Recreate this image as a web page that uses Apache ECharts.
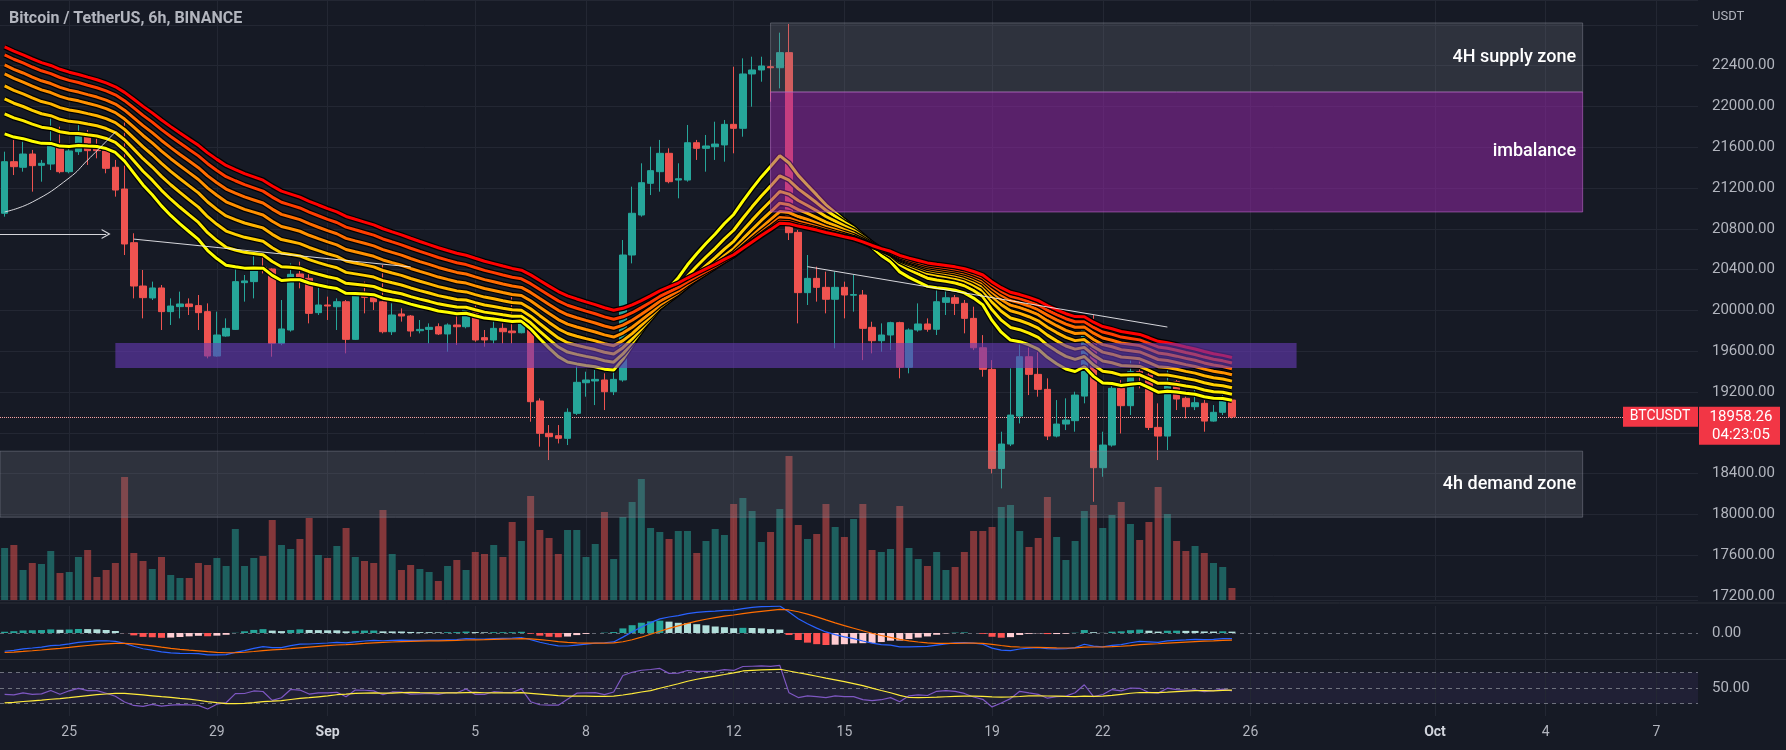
<!DOCTYPE html>
<html>
<head>
<meta charset="utf-8">
<script src="https://cdn.jsdelivr.net/npm/echarts@6/dist/echarts.min.js"></script>
<style>
  html, body { margin: 0; padding: 0; background: #161a25; }
  #chart { width: 1786px; height: 750px; }
</style>
</head>
<body>
<div id="chart"></div>
<script>
// BTCUSDT 6h candles, 2022-08-23 06:00 UTC .. 2022-09-25 12:00 UTC
const opens = [20953,21459,21404,21534,21423,21436,21629,21361,21557,21717,
  21600,21564,21404,21191,20665,20240,20123,20221,19989,20038,
  20064,20048,19989,19554,19750,19815,20273,20283,20423,20407,
  19678,19809,20358,20315,19979,20054,20037,20086,19717,20145,
  20129,20086,19792,19966,19946,19802,19815,19841,19770,19858,
  19841,20005,19734,19711,19825,19799,19782,19933,19113,18796,
  18773,18747,18992,19292,19309,19319,19204,19319,20544,20936,
  21247,21361,21541,21279,21279,21645,21590,21606,21623,21825,
  21786,22319,22358,22390,22380,22528,20766,20175,20315,20227,
  20110,20227,20150,20152,19835,19704,19760,19881,19443,19809,
  19868,19816,20080,20125,20070,19923,19635,19423,18452,18691,
  18965,19547,19374,19227,18769,18887,18920,19161,19874,18459,
  18681,19237,19067,19400,19367,18854,18769,19302,19139,19057,
  19090,18916,19002,19122];
const highs = [21557,21672,21655,21574,21476,21884,21802,21623,21819,21770,
  21688,21606,21476,21868,20757,20397,20283,20250,20119,20185,
  20119,20152,20070,19989,19923,20430,20348,20544,20560,20413,
  20103,20462,20479,20397,20234,20136,20119,20103,20185,20283,
  20168,20446,20070,20021,19956,19907,19874,19874,19874,19956,
  20037,20054,19809,19956,19874,20152,20021,19972,19139,18877,
  18877,19041,19466,19400,19417,19384,19417,20691,21214,21443,
  21606,21672,21590,21443,21819,21672,21721,21851,21868,22390,
  22472,22488,22488,22456,22724,22809,20789,20544,20430,20381,
  20381,20283,20348,20201,19890,19874,19890,19890,19825,20070,
  19923,20201,20217,20152,20103,20037,19759,19514,18812,19433,
  19671,19645,19596,19335,19122,19139,19204,19923,19955,18812,
  19286,19318,19514,19514,19400,19090,19416,19318,19155,19220,
  19122,19073,19188,19128];
const lows = [20920,21328,21361,21165,21263,21377,21345,21345,21525,21427,
  21492,21345,21116,20544,20119,19923,20103,19809,19858,19923,
  19956,19809,19531,19547,19743,19809,20087,20119,20364,19547,
  19660,19793,20217,19874,19956,19907,19809,19580,19711,19972,
  20005,19776,19760,19891,19743,19776,19678,19760,19596,19662,
  19825,19694,19645,19678,19678,19678,19776,18910,18665,18534,
  18697,18681,18976,19155,19073,19024,19171,19302,20462,20920,
  21132,21165,21247,21100,21263,21476,21361,21476,21459,21541,
  21704,21998,22243,22047,22178,20691,19874,20054,20087,19972,
  19629,19923,19989,19514,19580,19596,19612,19335,19384,19792,
  19792,19760,19956,19956,19776,19612,19351,18403,18256,18671,
  18893,19171,19155,18730,18756,18828,18812,19090,18125,18370,
  18665,18795,18975,19237,18828,18534,18632,19024,18942,19024,
  18812,18910,18975,18942];
const closes = [21459,21410,21534,21420,21443,21632,21361,21564,21717,21567,
  21567,21394,21181,20652,20240,20126,20221,19989,20044,20064,
  20038,19979,19554,19760,19825,20283,20290,20430,20397,19678,
  19819,20355,20309,19972,20054,20044,20086,19717,20145,20129,
  20086,19792,19956,19946,19799,19815,19835,19770,19858,19841,
  20011,19711,19711,19825,19792,19782,19930,19106,18796,18763,
  18747,19002,19296,19319,19325,19204,19325,20544,20953,21253,
  21371,21541,21263,21292,21645,21590,21613,21632,21825,21786,
  22319,22358,22397,22380,22528,20763,20175,20315,20227,20110,
  20227,20152,20156,19825,19704,19760,19881,19443,19809,19868,
  19816,20086,20125,20070,19923,19635,19423,18452,18691,18975,
  19547,19374,19227,18769,18887,18926,19171,19890,18459,18681,
  19237,19067,19400,19367,18854,18769,19302,19132,19057,19096,
  18916,19002,19122,18958.26];
// volume, thousand BTC (approx.)
const volumes = [52,55,30,37,36,49,27,28,43,50,
  23,30,37,123,47,39,31,43,25,22,
  22,37,35,42,34,71,34,42,44,80,
  55,51,61,82,45,42,54,72,43,39,
  37,90,46,30,35,31,28,19,34,40,
  30,48,46,55,43,78,59,104,70,62,
  46,70,70,43,56,88,41,83,98,121,
  72,68,61,69,69,47,59,71,65,96,
  102,89,58,68,91,144,75,61,66,96,
  73,63,81,96,50,48,51,94,52,41,
  34,48,30,33,48,69,69,73,93,95,
  69,53,62,103,63,40,59,89,95,72,
  85,98,76,60,78,113,86,59,49,54,
  47,37,33,12];

const tickDates = ['08-25 00','08-29 00','09-01 00','09-05 00','09-08 00','09-12 00','09-15 00',
  '09-19 00','09-22 00','09-26 00','10-01 00','10-04 00','10-07 00'];
const tickText = ['25','29','Sep','5','8','12','15','19','22','26','Oct','4','7'];

// EMA ribbon, fastest (yellow) to slowest (red); seeds = values read at the first bar
const emaPeriods = [20, 25, 30, 35, 40, 45, 50, 55];
const emaSeeds = [21731, 21928, 22075, 22202, 22320, 22408, 22506, 22584];
const emaColors = ['#ffff00','#ffeb00','#ffd000','#ffb300','#ff9100','#ff6d00','#ff3d00','#ff0000'];
const macdSeeds = [21520, 21960, -470];   // ema12, ema26, signal at first bar
const rsiSeeds = [90, 125];               // avg gain, avg loss at first bar
const rsiMaSeed = 30;

// drawn zones [top, bottom] and drawings [barIndex, price]
const supplyZone = [22819, 22142];
const imbalanceZone = [22142, 20966];
const midBand = [19681, 19436];
const demandZone = [18621, 17974];
const arcPoints = [[0, 20966], [3, 21063], [7, 21300], [9, 21475], [12, 21750]];
const trend1 = [[14, 20700], [44, 20427]];
const trend2 = [[87, 20430], [126, 19838]];
const arrowLevel = 20750;
const lastClose = 18958.26;

const slotCount = 184;
const pad = n => String(n).padStart(2, '0');
const startTs = Date.UTC(2022, 7, 23, 6);
const slots = [];
for (let i = 0; i < slotCount; i++) {
  const d = new Date(startTs + i * 6 * 3600 * 1000);
  slots.push(pad(d.getUTCMonth() + 1) + '-' + pad(d.getUTCDate()) + ' ' + pad(d.getUTCHours()));
}

// indicators
const emaLines = emaPeriods.map((p, k) => {
  const a = 2 / (p + 1);
  let e = emaSeeds[k];
  return closes.map((c, i) => { if (i > 0) e += a * (c - e); return +e.toFixed(2); });
});
const macd = [], signal = [], hist = [];
let e12 = macdSeeds[0], e26 = macdSeeds[1], sig = macdSeeds[2];
closes.forEach((c, i) => {
  if (i > 0) { e12 += 2 / 13 * (c - e12); e26 += 2 / 27 * (c - e26); }
  const m = e12 - e26;
  if (i > 0) sig += 0.2 * (m - sig);
  macd.push(+m.toFixed(2)); signal.push(+sig.toFixed(2)); hist.push(+(m - sig).toFixed(2));
});
const rsi = [];
let ag = rsiSeeds[0], al = rsiSeeds[1];
closes.forEach((c, i) => {
  if (i > 0) {
    const d = c - closes[i - 1];
    ag = (ag * 13 + Math.max(d, 0)) / 14;
    al = (al * 13 + Math.max(-d, 0)) / 14;
  }
  rsi.push(+(100 - 100 / (1 + ag / al)).toFixed(2));
});
const rsiMa = rsi.map((v, i) => {
  let s = 0;
  for (let j = i - 13; j <= i; j++) s += j >= 0 ? rsi[j] : rsiMaSeed;
  return +(s / 14).toFixed(2);
});

const UP = '#26a69a', DOWN = '#ef5350';
const FONT = 'Roboto';
const vLines = tickDates.map(d => ({ xAxis: d }));
const gridLineStyle = { color: '#232733', width: 1, type: 'solid' };

function xAxisFor(gridIndex, labels) {
  return {
    type: 'category', gridIndex: gridIndex, data: slots, boundaryGap: true,
    axisLine: { show: false }, axisTick: { show: false }, splitLine: { show: false },
    axisLabel: {
      show: labels, margin: 9, color: '#b2b5be', fontSize: 14, fontFamily: FONT,
      interval: (idx, val) => tickDates.indexOf(val) >= 0,
      formatter: val => {
        const t = tickText[tickDates.indexOf(val)];
        return /[A-Za-z]/.test(t) ? '{m|' + t + '}' : t;
      },
      rich: { m: { fontWeight: 'bold', color: '#d1d4dc', fontSize: 14, fontFamily: FONT } }
    }
  };
}

const chart = echarts.init(document.getElementById('chart'));

const series = [];
// volume (overlay at bottom of price pane)
series.push({
  type: 'bar', xAxisIndex: 1, yAxisIndex: 1, barWidth: 7, z: 2, silent: true,
  data: volumes.map((v, i) => ({ value: v, itemStyle: { color: closes[i] >= opens[i] ? 'rgba(38,166,154,0.5)' : 'rgba(239,83,80,0.5)' } }))
});
// candles
series.push({
  type: 'candlestick', xAxisIndex: 0, yAxisIndex: 0, barWidth: 7, z: 3,
  data: closes.map((c, i) => [opens[i], c, lows[i], highs[i]]),
  itemStyle: { color: UP, color0: DOWN, borderColor: UP, borderColor0: DOWN, borderWidth: 1 },
  markLine: {
    silent: true, symbol: 'none', z: 1, label: { show: false },
    data: vLines.map(v => Object.assign({ lineStyle: gridLineStyle }, v)).concat([
      { yAxis: lastClose, lineStyle: { color: '#f7a1a1', type: 'dotted', width: 1 } }
    ])
  }
});
// EMA ribbon with dark outlines
emaLines.forEach((line, k) => {
  series.push({ type: 'line', xAxisIndex: 0, yAxisIndex: 0, data: line, showSymbol: false, silent: true, z: 4,
    lineStyle: { color: '#000000', width: 5.5 } });
  series.push({ type: 'line', xAxisIndex: 0, yAxisIndex: 0, data: line, showSymbol: false, silent: true, z: 4,
    lineStyle: { color: emaColors[k], width: 3 } });
});
// zones
const zoneLabel = { show: true, position: 'insideRight', color: '#ffffff', fontSize: 18, fontWeight: 500, fontFamily: FONT, distance: 7 };
const grayZone = { color: 'rgba(120,123,134,0.25)', borderColor: 'rgba(140,143,155,0.45)', borderWidth: 1 };
series.push({
  type: 'line', xAxisIndex: 0, yAxisIndex: 0, data: [], silent: true,
  markArea: {
    z: 10, silent: true,
    data: [
      [{ xAxis: slots[83], yAxis: supplyZone[0], name: '4H supply zone', itemStyle: grayZone, label: zoneLabel },
       { xAxis: slots[171], yAxis: supplyZone[1] }],
      [{ xAxis: slots[83], yAxis: imbalanceZone[0], name: 'imbalance',
         itemStyle: { color: 'rgba(156,39,176,0.5)', borderColor: 'rgba(186,104,200,0.6)', borderWidth: 1 }, label: zoneLabel },
       { xAxis: slots[171], yAxis: imbalanceZone[1] }],
      [{ xAxis: slots[12], yAxis: midBand[0],
         itemStyle: { color: 'rgba(103,58,183,0.6)', borderWidth: 0 }, label: { show: false } },
       { xAxis: slots[140], yAxis: midBand[1] }],
      [{ yAxis: demandZone[0], name: '4h demand zone', itemStyle: grayZone, label: zoneLabel },
       { xAxis: slots[171], yAxis: demandZone[1] }]
    ]
  }
});
// drawings
const drawStyle = { color: 'rgba(235,235,240,0.9)', width: 1 };
series.push({ type: 'line', xAxisIndex: 0, yAxisIndex: 0, data: arcPoints, smooth: true, showSymbol: false, silent: true, z: 11, lineStyle: drawStyle });
series.push({ type: 'line', xAxisIndex: 0, yAxisIndex: 0, data: trend1, showSymbol: false, silent: true, z: 11, lineStyle: drawStyle });
series.push({
  type: 'line', xAxisIndex: 0, yAxisIndex: 0, data: trend2, showSymbol: false, silent: true, z: 11, lineStyle: drawStyle,
  markLine: {
    silent: true, z: 11, label: { show: false },
    symbol: ['none', 'path://M0,10L5,0L10,10L8.7,10L5,2.6L1.3,10Z'], symbolSize: [10, 9],
    lineStyle: { color: 'rgba(235,235,240,0.9)', width: 1, type: 'solid' },
    data: [[{ x: 0, yAxis: arrowLevel }, { coord: [11, arrowLevel] }]]
  }
});
// MACD
series.push({
  type: 'bar', xAxisIndex: 2, yAxisIndex: 2, barWidth: 7, silent: true, z: 2,
  data: hist.map((h, i) => {
    const p = i > 0 ? hist[i - 1] : h;
    const col = h >= 0 ? (h >= p ? '#26a69a' : '#b2dfdb') : (h <= p ? '#ff5252' : '#ffcdd2');
    return { value: h, itemStyle: { color: col } };
  }),
  markLine: {
    silent: true, symbol: 'none', z: 1, label: { show: false },
    data: vLines.map(v => Object.assign({ lineStyle: gridLineStyle }, v)).concat([
      { yAxis: 0, lineStyle: { color: 'rgba(120,123,134,0.8)', type: [4, 4], width: 1 } }
    ])
  }
});
series.push({ type: 'line', xAxisIndex: 2, yAxisIndex: 2, data: macd, showSymbol: false, silent: true, z: 3, lineStyle: { color: '#2962ff', width: 1.2 } });
series.push({ type: 'line', xAxisIndex: 2, yAxisIndex: 2, data: signal, showSymbol: false, silent: true, z: 3, lineStyle: { color: '#ff6d00', width: 1.2 } });
// RSI
series.push({
  type: 'line', xAxisIndex: 3, yAxisIndex: 3, data: rsi, showSymbol: false, silent: true, z: 3,
  lineStyle: { color: '#7e57c2', width: 1.2 },
  markArea: { silent: true, z: 0, itemStyle: { color: 'rgba(126,87,194,0.1)' }, data: [[{ yAxis: 70 }, { yAxis: 30 }]] },
  markLine: {
    silent: true, symbol: 'none', z: 1, label: { show: false },
    data: vLines.map(v => Object.assign({ lineStyle: gridLineStyle }, v)).concat([70, 50, 30].map(y => (
      { yAxis: y, lineStyle: { color: 'rgba(120,123,134,0.9)', type: [4, 4], width: 1 } })))
  }
});
series.push({ type: 'line', xAxisIndex: 3, yAxisIndex: 3, data: rsiMa, showSymbol: false, silent: true, z: 3, lineStyle: { color: '#ffeb3b', width: 1.2 } });

const axisLabelStyle = { color: '#b2b5be', fontSize: 15, fontFamily: FONT, margin: 14, align: 'left' };

chart.setOption({
  backgroundColor: '#161a25',
  animation: false,
  textStyle: { fontFamily: FONT },
  title: [
    { text: 'Bitcoin / TetherUS, 6h, BINANCE', left: 9, top: 11, padding: 0,
      textStyle: { color: '#b2b5be', fontSize: 16, fontWeight: 'bold', fontFamily: FONT } },
    { text: 'USDT', left: 1712, top: 10, padding: 0,
      textStyle: { color: '#b2b5be', fontSize: 13, fontWeight: 'normal', fontFamily: FONT } }
  ],
  grid: [
    { left: -3, right: 88, top: 0, height: 600 },
    { left: -3, right: 88, top: 440, height: 160 },
    { left: -3, right: 88, top: 606, height: 54 },
    { left: -3, right: 88, top: 660, height: 56 }
  ],
  xAxis: [xAxisFor(0, false), xAxisFor(1, false), xAxisFor(2, false), xAxisFor(3, true)],
  yAxis: [
    { type: 'value', gridIndex: 0, position: 'right', min: 17162, max: 23044, minInterval: 400, maxInterval: 400, splitNumber: 15,
      axisLine: { show: false }, axisTick: { show: false },
      axisLabel: Object.assign({ formatter: v => v > 22500 ? '' : v.toFixed(2), showMinLabel: false, showMaxLabel: false }, axisLabelStyle),
      splitLine: { lineStyle: { color: '#232733' } } },
    { type: 'value', gridIndex: 1, min: 0, max: 160, show: false },
    { type: 'value', gridIndex: 2, position: 'right', min: -650, max: 650, interval: 650,
      axisLine: { show: false }, axisTick: { show: false }, splitLine: { show: false },
      axisLabel: Object.assign({ formatter: v => v === 0 ? '0.00' : '' }, axisLabelStyle) },
    { type: 'value', gridIndex: 3, position: 'right', min: 14, max: 86, interval: 36,
      axisLine: { show: false }, axisTick: { show: false }, splitLine: { show: false },
      axisLabel: Object.assign({ formatter: v => v === 50 ? '50.00' : '' }, axisLabelStyle) }
  ],
  series: series
});

// pane separators and last price tags
const yLast = chart.convertToPixel({ yAxisIndex: 0 }, lastClose);
const tagFont = '14px ' + FONT;
const priceFont = '15px ' + FONT;
chart.setOption({
  graphic: [
    { type: 'line', shape: { x1: 0, y1: 603, x2: 1786, y2: 603 }, style: { stroke: '#2a2e39', lineWidth: 1 }, silent: true },
    { type: 'line', shape: { x1: 0, y1: 659.5, x2: 1786, y2: 659.5 }, style: { stroke: '#2a2e39', lineWidth: 1 }, silent: true },
    { type: 'rect', shape: { x: 1623, y: yLast - 10, width: 75, height: 20 }, style: { fill: '#f23645' }, z: 100, silent: true },
    { type: 'text', x: 1660, y: yLast, z: 101, silent: true,
      style: { text: 'BTCUSDT', fill: '#ffffff', font: tagFont, align: 'center', verticalAlign: 'middle' } },
    { type: 'rect', shape: { x: 1699, y: yLast - 10, width: 81, height: 38 }, style: { fill: '#f23645' }, z: 100, silent: true },
    { type: 'text', x: 1741, y: yLast, z: 101, silent: true,
      style: { text: lastClose.toFixed(2), fill: '#ffffff', font: priceFont, align: 'center', verticalAlign: 'middle' } },
    { type: 'text', x: 1741, y: yLast + 18, z: 101, silent: true,
      style: { text: '04:23:05', fill: '#ffffff', font: priceFont, align: 'center', verticalAlign: 'middle' } }
  ]
});
</script>
</body>
</html>
